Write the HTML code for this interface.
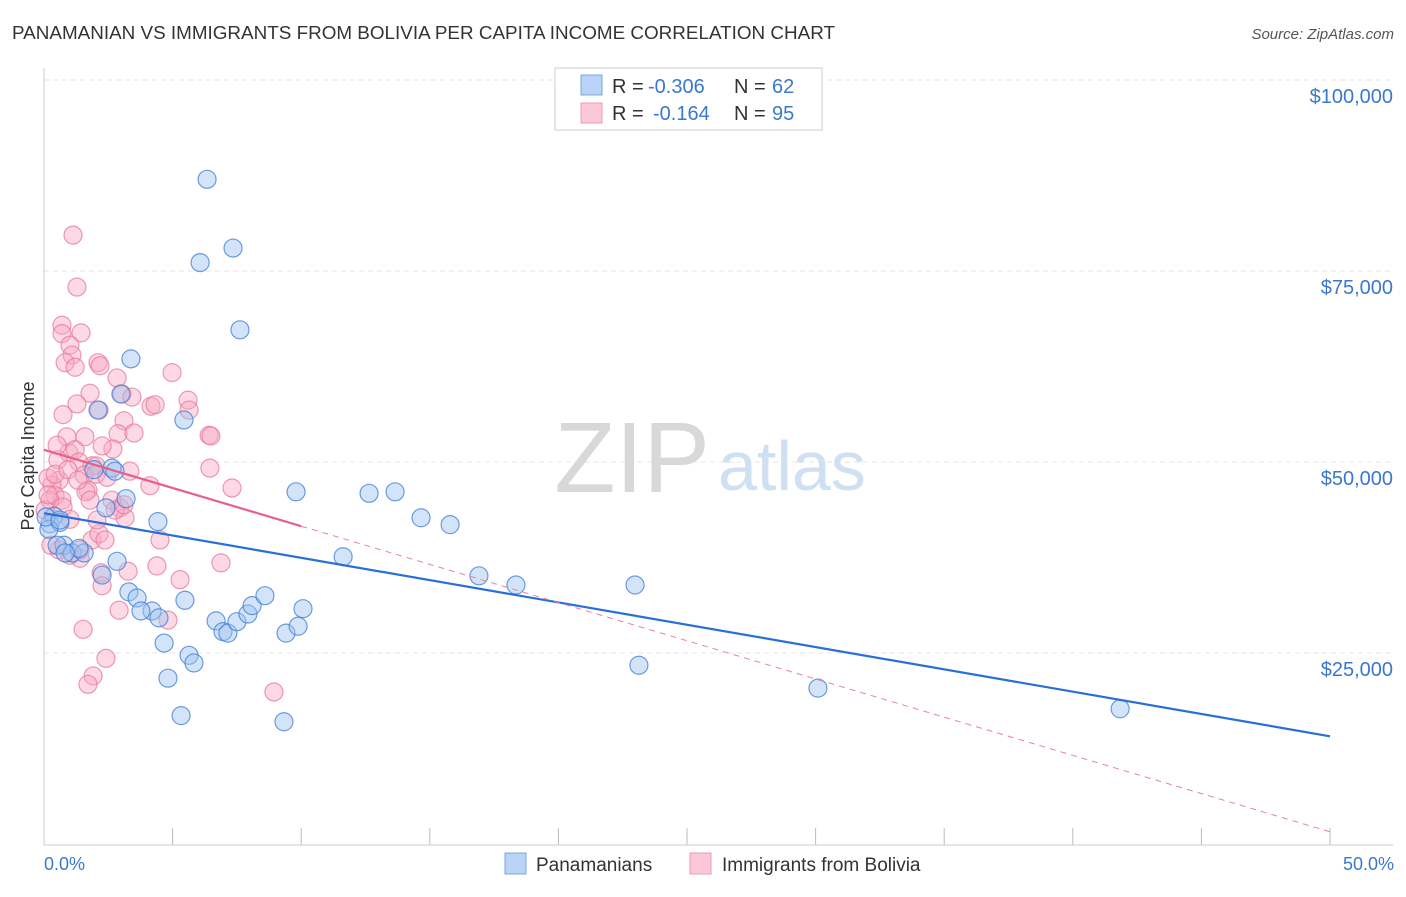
<!DOCTYPE html>
<html><head><meta charset="utf-8"><style>
body{margin:0;background:#fff;font-family:"Liberation Sans",sans-serif;}
svg text{font-family:"Liberation Sans",sans-serif;}
</style></head><body>
<svg id="chart" width="1406" height="892">
<text x="12" y="39" font-size="18" fill="#333" textLength="823" lengthAdjust="spacingAndGlyphs">PANAMANIAN VS IMMIGRANTS FROM BOLIVIA PER CAPITA INCOME CORRELATION CHART</text>
<text x="1394" y="39" font-size="15" fill="#555" font-style="italic" text-anchor="end">Source: ZipAtlas.com</text>
<g id="grid"></g>
<text x="710" y="492" font-size="100" fill="#d8d8d8" font-family="Liberation Serif" text-anchor="end">ZIP</text>
<text x="718" y="490" font-size="70" fill="#cfe0f2">atlas</text>
<line x1="44" y1="68" x2="44" y2="845" stroke="#ccc"/>
<line x1="44" y1="845" x2="1393" y2="845" stroke="#ccc"/>
<text transform="translate(34,456) rotate(-90)" font-size="18" fill="#333" text-anchor="middle">Per Capita Income</text>
<text x="44" y="870" font-size="18" fill="#3a78d0">0.0%</text>
<text x="1394" y="870" font-size="18" fill="#3a78d0" text-anchor="end">50.0%</text>
<g id="ticks"></g>
<g id="pts"></g>
<g id="trend"></g>
<g>
<rect x="555" y="68" width="267" height="62" fill="#fff" stroke="#ccc"/>
<rect x="581" y="75" width="21" height="20" fill="#b8d3f5" stroke="#7aa7e0"/>
<rect x="581" y="103" width="21" height="20" fill="#fcc8d6" stroke="#ee99b0"/>
<text x="612" y="93" font-size="20" fill="#333">R = <tspan x="648" fill="#3a78d0">-0.306</tspan><tspan x="734">N = </tspan><tspan x="772" fill="#3a78d0">62</tspan></text>
<text x="612" y="120" font-size="20" fill="#333">R = <tspan x="653" fill="#3a78d0">-0.164</tspan><tspan x="734">N = </tspan><tspan x="772" fill="#3a78d0">95</tspan></text>
</g>
<g>
<rect x="505" y="853" width="21" height="21" fill="#b8d3f5" stroke="#7aa7e0"/>
<text x="536" y="871" font-size="19" fill="#333">Panamanians</text>
<rect x="690" y="853" width="21" height="21" fill="#fcc8d6" stroke="#ee99b0"/>
<text x="722" y="871" font-size="19" fill="#333">Immigrants from Bolivia</text>
</g>
</svg>
<script>
const yTicks=[25000,50000,75000,100000];
const yTickLabels=["$25,000","$50,000","$75,000","$100,000"];
const xTicks=[0,5,10,15,20,25,30,35,40,45,50];
const blueX=[6.34,6.07,7.35,7.62,3.38,2.10,2.99,5.44,2.64,2.76,3.19,2.41,4.43,9.80,12.64,13.65,14.66,15.79,11.63,16.91,18.35,22.98,23.13,30.09,41.84,0.39,0.23,0.62,0.78,1.09,1.56,2.84,3.30,3.62,4.20,3.77,4.47,5.48,4.67,5.64,5.83,4.82,5.33,6.69,6.96,7.15,7.50,7.93,8.09,8.59,9.41,9.88,10.07,9.33,0.19,0.08,0.51,1.36,0.82,2.26,1.94,0.62];
const blueY=[87.0,76.1,78.0,67.3,63.5,56.8,58.9,55.5,49.2,48.8,45.2,44.0,42.2,46.1,45.9,46.1,42.7,41.8,37.6,35.1,33.9,33.9,23.4,20.4,17.7,42.9,41.9,42.1,39.1,38.1,38.1,37.0,33.0,32.2,30.5,30.5,29.6,31.9,26.3,24.7,23.7,21.7,16.8,29.2,27.8,27.6,29.1,30.1,31.2,32.5,27.6,28.5,30.8,16.0,41.2,42.8,39.1,38.7,38.1,35.2,49.0,42.4];
const pinkX=[1.13,1.28,0.70,1.44,0.70,1.01,1.09,0.82,1.21,2.10,2.18,2.84,1.79,3.03,4.98,5.60,5.64,4.16,4.32,3.42,0.74,1.28,2.14,0.89,1.59,3.11,2.88,6.42,6.49,0.97,1.21,0.54,1.36,1.87,2.02,2.68,3.34,4.12,7.31,6.45,1.56,2.02,0.58,0.31,0.43,1.71,1.63,2.45,2.95,3.15,2.64,0.70,0.23,0.16,0.43,1.87,2.14,0.58,1.40,2.22,2.26,3.27,4.39,6.88,2.92,1.52,1.91,1.71,2.41,8.94,0.27,1.01,1.40,0.74,1.01,2.76,3.11,0.04,0.16,0.51,0.93,1.32,2.06,2.37,1.79,4.51,3.50,2.26,4.82,5.29];
const pinkY=[79.7,72.9,67.9,66.9,66.8,65.3,64.0,63.0,62.4,63.0,62.6,61.0,59.0,58.9,61.7,58.1,56.8,57.3,57.5,58.5,56.2,57.6,56.8,53.3,53.3,55.4,53.7,53.5,53.4,51.2,51.6,50.3,50.0,49.5,49.5,51.7,48.8,46.9,46.6,49.2,48.3,48.4,47.6,47.0,45.6,46.3,46.1,48.0,44.0,42.7,45.0,45.0,45.0,47.9,48.4,39.8,40.6,38.5,37.4,35.5,33.8,35.7,36.4,36.8,30.6,28.1,22.0,20.9,24.3,19.9,39.1,37.8,38.5,44.1,42.5,43.7,44.4,43.7,45.7,52.2,49.0,47.6,42.4,39.8,45.0,39.8,53.8,52.1,29.3,34.6];
const blueTrend=[43.3,14.1];
const pinkTrend=[51.6,1.6];
const pinkSolidEnd=10;
const NS="http://www.w3.org/2000/svg";
const X0=44,X1=1330,Y0=844,YPER=191/25;
function sx(p){return X0+(X1-X0)*p/50;}
function sy(k){return Y0-k*YPER;}
function mk(t,a,parent){const e=document.createElementNS(NS,t);for(const k in a)e.setAttribute(k,a[k]);parent.appendChild(e);return e;}
const grid=document.getElementById('grid'),ticks=document.getElementById('ticks');
yTicks.forEach((v,i)=>{
  const y=sy(v/1000);
  const l=mk('line',{x1:44,x2:1393,y1:y,y2:y,stroke:'#e4e4e4','stroke-dasharray':'5,4'},grid);
  
  
  const t=mk('text',{x:1393,y:y+23,'font-size':20,fill:'#3a78d0','text-anchor':'end'},ticks);
  t.textContent=yTickLabels[i];
  
  
});
{const l=mk('line',{x1:44,x2:1393,y1:80,y2:80,stroke:'#e4e4e4','stroke-dasharray':'5,4'},grid);

}
xTicks.forEach(p=>{
  const l=mk('line',{x1:sx(p),x2:sx(p),y1:828,y2:845,stroke:'#bbb'},grid);
  
  
});
const pts=document.getElementById('pts');
pinkX.forEach((x,i)=>{
  const c=mk('circle',{cx:sx(x),cy:sy(pinkY[i]),r:9,fill:'rgba(248,170,195,0.45)',stroke:'rgba(232,120,155,0.75)','stroke-width':1.2},pts);
  
  
});
blueX.forEach((x,i)=>{
  const c=mk('circle',{cx:sx(x),cy:sy(blueY[i]),r:9,fill:'rgba(160,195,240,0.45)',stroke:'rgba(60,125,215,0.75)','stroke-width':1.2},pts);
  
  
});
const tr=document.getElementById('trend');
function py(p){return pinkTrend[0]+(pinkTrend[1]-pinkTrend[0])*p/50;}
let l1=mk('line',{x1:sx(0),y1:sy(blueTrend[0]),x2:sx(50),y2:sy(blueTrend[1]),stroke:'#2a6fd6','stroke-width':2.2},tr);


let l2=mk('line',{x1:sx(pinkSolidEnd),y1:sy(py(pinkSolidEnd)),x2:sx(50),y2:sy(py(50)),stroke:'#e8829f','stroke-width':1,'stroke-dasharray':'6,5'},tr);


let l3=mk('line',{x1:sx(0),y1:sy(py(0)),x2:sx(pinkSolidEnd),y2:sy(py(pinkSolidEnd)),stroke:'#e8608a','stroke-width':2.2},tr);


</script>
</body></html>
